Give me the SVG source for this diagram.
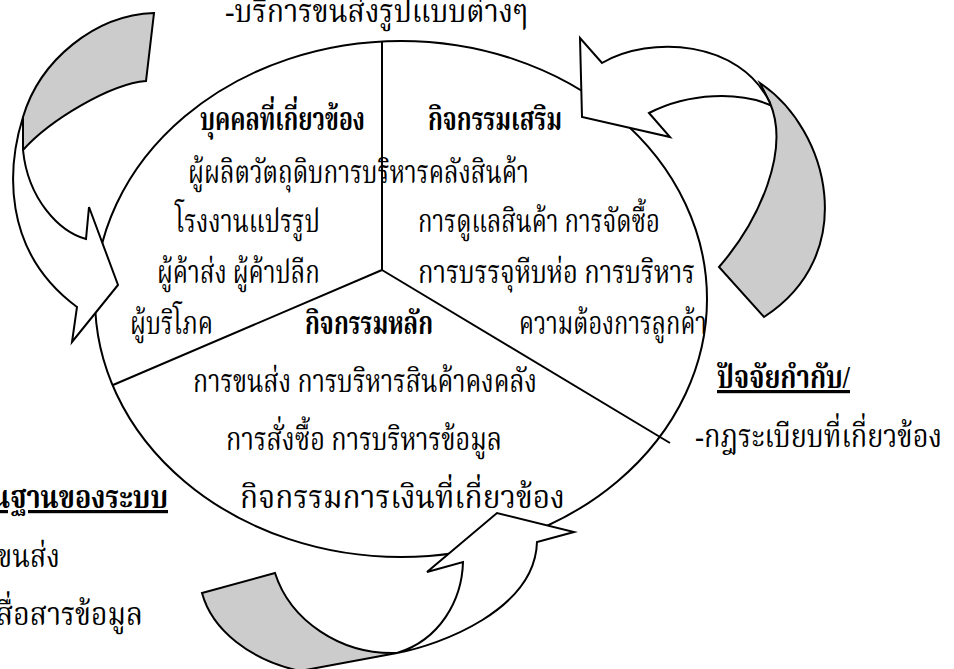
<svg xmlns="http://www.w3.org/2000/svg" width="954" height="669" viewBox="0 0 954 669">
<style>
.ln{fill:none;stroke:#000;stroke-width:2}
.wa{fill:#fff;stroke:#000;stroke-width:2;stroke-linejoin:miter}
.ga{fill:#ccc;stroke:#000;stroke-width:2;stroke-linejoin:miter}
text{font-family:"Liberation Serif","Noto Serif Thai","Noto Sans Thai",serif;font-size:32px;fill:#000}
.b{font-weight:bold}
.u{text-decoration:underline}
</style>
<rect width="954" height="669" fill="#fff"/>
<g id="cycle">
<ellipse class="ln" cx="401" cy="299" rx="306" ry="258"/>
</g>
<g id="connectors">
<line class="ln" x1="382" y1="41" x2="382" y2="270"/>
<line class="ln" x1="382" y1="270" x2="113" y2="385"/>
<line class="ln" x1="382" y1="270" x2="670" y2="443"/>
</g>
<g id="arrow-left">
<path class="ga" d="M154,13 C95,15 40,60 23,117 L23,150 C50,120 110,84 146,81 Z"/>
<path class="wa" d="M23,117 C8,165 0,250 77,307 L72,342 L118,285 L89,207 L86,239 C60,232 28,200 23,150 Z"/>
</g>
<g id="arrow-right">
<path class="ga" d="M760,83 C830,130 860,255 764,317 L719,267 C760,220 790,150 770,103 Z"/>
<path class="wa" d="M602,63 C650,35 740,40 770,103 L770,105 C740,92 690,92 649,113 L670,137 L582,117 L580,38 Z"/>
</g>
<g id="arrow-bottom">
<path class="ga" d="M202,593 L275,573 C290,620 340,655 397,653 L300,671 C250,660 212,630 202,593 Z"/>
<path class="wa" d="M463,562 C462,600 440,640 397,653 C440,645 535,610 537,542 L574,532 L497,513 L427,572 Z"/>
</g>
<g id="texts">
<text x="225" y="22" textLength="303" lengthAdjust="spacingAndGlyphs">-บริการขนส่งรูปแบบต่างๆ</text>
<text class="b" x="200" y="130" textLength="165" lengthAdjust="spacingAndGlyphs">บุคคลที่เกี่ยวข้อง</text>
<text class="b" x="428" y="130" textLength="134" lengthAdjust="spacingAndGlyphs">กิจกรรมเสริม</text>
<text x="188" y="183" textLength="341" lengthAdjust="spacingAndGlyphs">ผู้ผลิตวัตถุดิบการบริหารคลังสินค้า</text>
<text x="175" y="232" textLength="145" lengthAdjust="spacingAndGlyphs">โรงงานแปรรูป</text>
<text x="418" y="232" textLength="242" lengthAdjust="spacingAndGlyphs">การดูแลสินค้า การจัดซื้อ</text>
<text x="157" y="283" textLength="163" lengthAdjust="spacingAndGlyphs">ผู้ค้าส่ง  ผู้ค้าปลีก</text>
<text x="418" y="283" textLength="277" lengthAdjust="spacingAndGlyphs">การบรรจุหีบห่อ  การบริหาร</text>
<text x="130" y="334" textLength="83" lengthAdjust="spacingAndGlyphs">ผู้บริโภค</text>
<text class="b" x="305" y="334" textLength="128" lengthAdjust="spacingAndGlyphs">กิจกรรมหลัก</text>
<text x="519" y="334" textLength="188" lengthAdjust="spacingAndGlyphs">ความต้องการลูกค้า</text>
<text x="193" y="392" textLength="344" lengthAdjust="spacingAndGlyphs">การขนส่ง  การบริหารสินค้าคงคลัง</text>
<text x="226" y="450" textLength="276" lengthAdjust="spacingAndGlyphs">การสั่งซื้อ  การบริหารข้อมูล</text>
<text x="240" y="508" textLength="325" lengthAdjust="spacingAndGlyphs">กิจกรรมการเงินที่เกี่ยวข้อง</text>
<text class="b u" x="717" y="388" textLength="133" lengthAdjust="spacingAndGlyphs">ปัจจัยกำกับ/</text>
<text x="695" y="447" textLength="247" lengthAdjust="spacingAndGlyphs">-กฎระเบียบที่เกี่ยวข้อง</text>
<text class="b u" x="-28" y="508" textLength="196" lengthAdjust="spacingAndGlyphs">พื้นฐานของระบบ</text>
<text x="-3" y="567" textLength="63" lengthAdjust="spacingAndGlyphs">ขนส่ง</text>
<text x="-4" y="625" textLength="147" lengthAdjust="spacingAndGlyphs">สื่อสารข้อมูล</text>
</g>
</svg>
